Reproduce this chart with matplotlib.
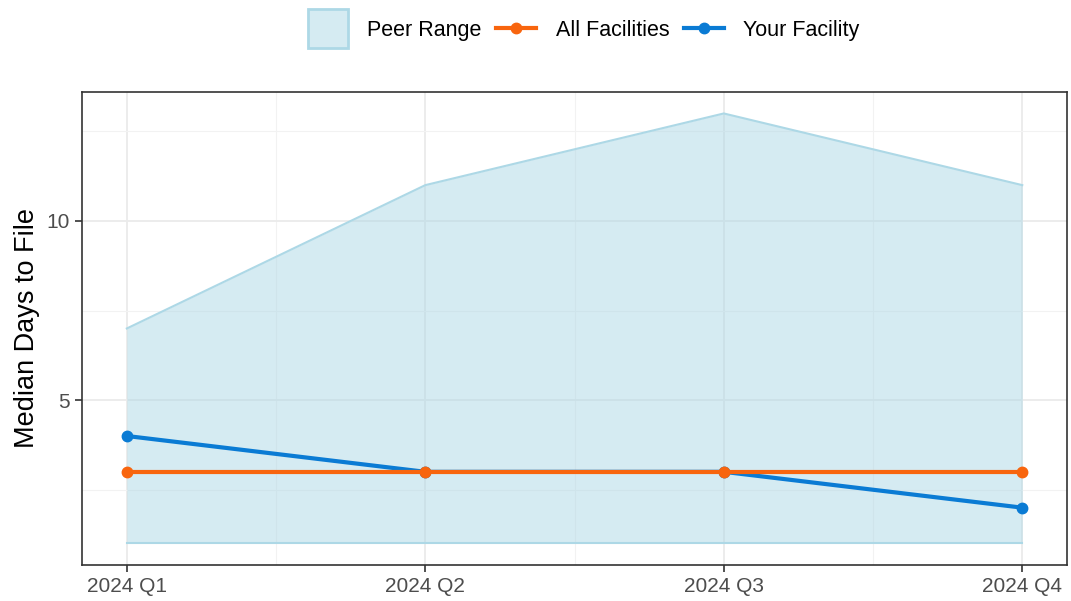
import matplotlib
matplotlib.use("Agg")
import matplotlib.pyplot as plt
from matplotlib.patches import Patch, Rectangle
from matplotlib.lines import Line2D
from matplotlib.legend_handler import HandlerPatch

plt.rcParams['font.family'] = ['Liberation Sans', 'DejaVu Sans']

quarters = ["2024 Q1", "2024 Q2", "2024 Q3", "2024 Q4"]
peer_low = [1, 1, 1, 1]
peer_high = [7, 11, 13, 11]
all_fac = [3, 3, 3, 3]
your_fac = [4, 3, 3, 2]

c_fill = "#ADD8E6"
c_orange = "#F8650E"
c_blue = "#0A7BD4"

fig = plt.figure(figsize=(10.71, 6.01), dpi=100)
ax = fig.add_axes([0.0766, 0.0599, 0.9197, 0.7871])

x = list(range(1, len(quarters) + 1))
ax.fill_between(x, peer_low, peer_high, color=c_fill, alpha=0.5, lw=0, zorder=2)
ax.plot(x, peer_low, color=c_fill, lw=1.5, zorder=2.5)
ax.plot(x, peer_high, color=c_fill, lw=1.5, zorder=2.5)
ax.plot(x, all_fac, color=c_orange, lw=3, marker='o', ms=7.5, zorder=4)
ax.plot(x, your_fac, color=c_blue, lw=3, marker='o', ms=7.5, zorder=3)

ax.set_xlim(0.85, 4.15)
ax.set_ylim(0.4, 13.6)
ax.set_xticks(x)
ax.set_xticklabels(quarters)
ax.set_xticks([1.5, 2.5, 3.5], minor=True)
ax.set_yticks([5, 10])
ax.set_yticks([2.5, 7.5, 12.5], minor=True)
ax.grid(True, which='major', color='#EBEBEB', lw=1.3, zorder=0)
ax.grid(True, which='minor', color='#F2F2F2', lw=0.8, zorder=0)
ax.set_axisbelow(True)
ax.tick_params(which='major', length=5, width=1.2, color='#333333', labelsize=15, labelcolor='#4D4D4D')
ax.tick_params(which='minor', length=0)
for s in ax.spines.values():
    s.set_color('#333333')
    s.set_linewidth(1.2)
ax.set_ylabel("Median Days to File", fontsize=19.5, color='black', labelpad=5)


def square_patch(legend, orig_handle, xdescent, ydescent, width, height, fontsize):
    side = width
    return Rectangle((-xdescent, -ydescent + height / 2 - side / 2), width, side)


handles = [
    Patch(facecolor=(0.678, 0.847, 0.902, 0.5), edgecolor=c_fill, lw=2),
    Line2D([], [], color=c_orange, lw=3, marker='o', ms=7.5),
    Line2D([], [], color=c_blue, lw=3, marker='o', ms=7.5),
]
labels = ["Peer Range", "All Facilities", "Your Facility"]
fig.legend(handles, labels, loc='upper center', bbox_to_anchor=(0.545, 0.999), ncol=3,
           frameon=False, fontsize=15.5, handlelength=1.85,
           columnspacing=0.7, handletextpad=0.9,
           handler_map={Patch: HandlerPatch(patch_func=square_patch)})

fig.savefig("out.png", dpi=100)
